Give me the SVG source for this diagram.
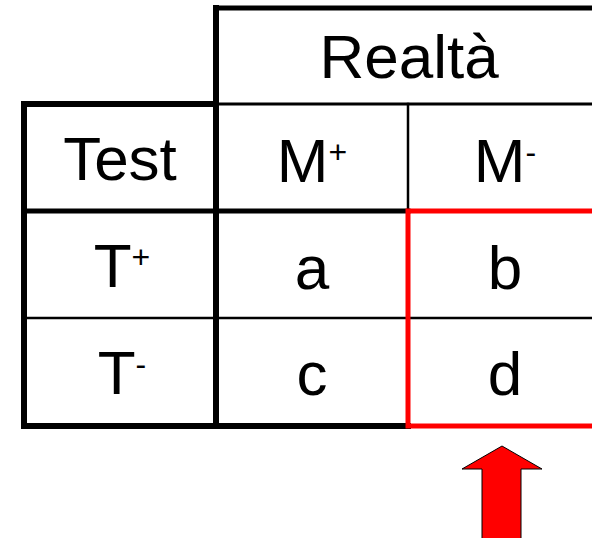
<svg xmlns="http://www.w3.org/2000/svg" width="592" height="538" viewBox="0 0 592 538">
<style>
.t{font-family:"Liberation Sans","DejaVu Sans",sans-serif;font-size:62px;fill:#000;text-anchor:middle}
.s{font-size:32px}
.k{stroke:#000;fill:none;stroke-linecap:square}
</style>
<rect width="592" height="538" fill="#fff"/>
<g id="grid">
<line class="k" x1="216" y1="8" x2="600" y2="8" stroke-width="5"/>
<line class="k" x1="216" y1="104" x2="600" y2="104" stroke-width="3"/>
<line class="k" x1="24" y1="104" x2="216" y2="104" stroke-width="6"/>
<line class="k" x1="24" y1="211" x2="408" y2="211" stroke-width="5"/>
<line class="k" x1="24" y1="318" x2="600" y2="318" stroke-width="2.5"/>
<line class="k" x1="24" y1="426" x2="408" y2="426" stroke-width="6"/>
<line class="k" x1="24" y1="104" x2="24" y2="426" stroke-width="6"/>
<line class="k" x1="216" y1="8" x2="216" y2="426" stroke-width="6"/>
<line class="k" x1="408" y1="104" x2="408" y2="211" stroke-width="2.5"/>
</g>
<g id="highlight">
<rect x="408" y="211" width="200" height="215" fill="none" stroke="#f00" stroke-width="5"/>
</g>
<g id="realta"><text class="t" x="409" y="78">Realtà</text></g>
<g id="test"><text class="t" x="120" y="180">Test</text></g>
<g id="mplus"><text class="t" x="312" y="182">M<tspan class="s" dy="-19">+</tspan></text></g>
<g id="mminus"><text class="t" x="505" y="182">M<tspan class="s" dy="-19">-</tspan></text></g>
<g id="tplus"><text class="t" x="122" y="287">T<tspan class="s" dy="-19">+</tspan></text></g>
<g id="tminus"><text class="t" x="122" y="394">T<tspan class="s" dy="-19">-</tspan></text></g>
<g id="a"><text class="t" x="312" y="289">a</text></g>
<g id="b"><text class="t" x="505" y="289">b</text></g>
<g id="c"><text class="t" x="312" y="395">c</text></g>
<g id="d"><text class="t" x="505" y="395">d</text></g>
<g id="arrow">
<polygon points="502,446 542,469 521,469 521,540 482,540 482,469 462,469" fill="#f00" stroke="#000" stroke-width="1"/>
</g>
</svg>
